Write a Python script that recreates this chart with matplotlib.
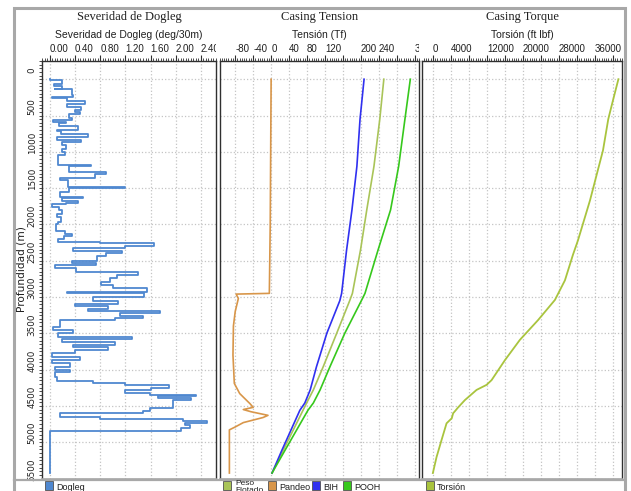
import matplotlib
matplotlib.use("Agg")
import matplotlib.pyplot as plt
from matplotlib.ticker import MultipleLocator, FixedLocator
from matplotlib.patches import Rectangle
from matplotlib.lines import Line2D
from matplotlib.transforms import ScaledTranslation, Bbox, TransformedBbox

# ---------------- data ----------------
# Dogleg severity (deg/30m): depth where a new value starts, and that value
dls_depth = [0, 15, 60, 100, 130, 135, 220, 250, 255, 300, 340, 380, 420, 450, 480, 530,
             560, 590, 610, 650, 700, 720, 760, 790, 840, 860, 900, 960, 1000, 1050, 1180,
             1200, 1280, 1300, 1365, 1390, 1487, 1500, 1560, 1620, 1640, 1680, 1700, 1720,
             1760, 1800, 1850, 1900, 1960, 2000, 2090, 2130, 2160, 2200, 2245, 2260, 2300,
             2330, 2365, 2400, 2440, 2500, 2530, 2560, 2600, 2650, 2700, 2740, 2795, 2830,
             2880, 2930, 2950, 3000, 3050, 3100, 3130, 3160, 3190, 3225, 3260, 3290, 3320,
             3410, 3460, 3500, 3550, 3580, 3620, 3660, 3690, 3730, 3775, 3830, 3870, 3910,
             3965, 4000, 4035, 4100, 4160, 4190, 4215, 4255, 4285, 4320, 4350, 4370, 4390,
             4420, 4530, 4570, 4600, 4650, 4680, 4710, 4740, 4765, 4810, 4840, 5425]
dls_value = [0.00, 0.19, 0.06, 0.19, 0.08, 0.35, 0.37, 0.03, 0.28, 0.56, 0.27, 0.50, 0.40,
             0.48, 0.30, 0.35, 0.05, 0.25, 0.15, 0.45, 0.12, 0.18, 0.60, 0.12, 0.50, 0.20,
             0.26, 0.20, 0.24, 0.13, 0.66, 0.30, 0.90, 0.72, 0.16, 0.29, 1.19, 0.30, 0.16,
             0.53, 0.20, 0.45, 0.25, 0.03, 0.15, 0.20, 0.12, 0.18, 0.13, 0.10, 0.24, 0.35,
             0.22, 0.13, 0.80, 1.65, 1.19, 0.37, 1.14, 0.90, 0.75, 0.35, 0.74, 0.08, 0.42,
             1.40, 1.06, 0.95, 0.82, 1.00, 1.54, 0.27, 1.50, 0.68, 1.08, 0.40, 0.92, 0.60,
             1.75, 1.11, 1.48, 1.03, 0.16, 0.05, 0.37, 0.13, 1.30, 0.19, 1.03, 0.37, 0.92,
             0.40, 0.03, 0.48, 0.03, 0.32, 0.08, 0.32, 0.08, 0.11, 0.68, 1.19, 1.90, 1.60,
             1.20, 1.59, 2.33, 1.72, 2.25, 1.96, 1.59, 1.48, 0.16, 0.79, 2.11, 2.50, 2.14,
             2.22, 2.09, 0.00, 0.00]

# Casing tension (Tf)
ten_depth = [0, 550, 1200, 1800, 2355, 2950, 3050, 3500, 3960, 4280, 4460, 4560, 5110, 5425]
rih = [207, 198, 191, 180, 168, 157, 153, 124, 101, 87, 75, 64, 24, 2]
peso = [251, 242, 229, 213, 199, 181, 175, 146, 116, 94, 79, 71, 27, 2]
pooh = [310, 298, 284, 266, 238, 209, 201, 164, 131, 109, 94, 82, 31, 2]

pandeo_depth = [0, 1000, 2000, 2950, 2960, 3020, 3200, 3400, 3800, 4190, 4330, 4470,
                4520, 4550, 4580, 4630, 4660, 4730, 4790, 4830, 5425]
pandeo = [0, -1, -2, -4, -78, -73, -80, -84, -85, -82, -70, -47, -40, -62, -45, -7, -18,
          -62, -80, -93, -93]

# Casing torque (ft lbf)
tor_depth = [0, 290, 550, 980, 1670, 2220, 2420, 2770, 3040, 3320, 3590, 3870, 4145,
             4210, 4280, 4420, 4520, 4590, 4600, 4670, 4740, 4970, 5205, 5425]
torque = [41200, 40000, 38950, 37780, 34890, 32220, 31100, 29330, 27110, 23330, 19330,
          16000, 13040, 11930, 9700, 7110, 5620, 4670, 4510, 4200, 3040, 1930, 820, 0]

dls_ticks = [0.0, 0.4, 0.8, 1.2, 1.6, 2.0, 2.4]
dls_labels = ["0.00", "0.40", "0.80", "1.20", "1.60", "2.00", "2.40"]
ten_ticks = list(range(-80, 321, 40))
ten_labels = ["-80", "-40", "0", "40", "80", "120", "", "200", "240", "", "320"]
tor_ticks = list(range(0, 40001, 4000))
tor_labels = ["0", "4000", "", "12000", "", "20000", "", "28000", "", "36000", ""]
depth_ticks = list(range(0, 5501, 500))

# ---------------- figure ----------------
W, H = 631, 491
fig = plt.figure(figsize=(W / 100, H / 100), dpi=100)
fig.patch.set_facecolor("white")


def fx(px):
    return px / W


def fy(py):
    return 1 - py / H


NARROW = ["Liberation Sans Narrow", "Liberation Sans", "DejaVu Sans"]
SERIF = ["Liberation Serif", "DejaVu Serif"]
TOP, BOT = 60.7, 478.5
panels = [(42.3, 216.0), (219.5, 419.3), (422.5, 622.0)]
axes = [fig.add_axes([fx(l), fy(BOT), (r - l) / W, (BOT - TOP) / H]) for l, r in panels]

# outer frame
fig.add_artist(Rectangle((fx(14), fy(530)), fx(625) - fx(14), fy(8) - fy(530),
                         transform=fig.transFigure, fill=False, ec="#a8a8a8", lw=2.2))
fig.add_artist(Line2D([fx(14), fx(625)], [fy(479.5), fy(479.5)], transform=fig.transFigure,
                      color="#a8a8a8", lw=1.6))


def style(ax, xlim, ticks, labels, minor, right_px):
    ax.set_xlim(*xlim)
    ax.set_ylim(5500, -255)
    ax.xaxis.tick_top()
    ax.xaxis.set_major_locator(FixedLocator(ticks))
    ax.xaxis.set_minor_locator(MultipleLocator(minor))
    ax.set_xticklabels(labels)
    ax.tick_params(axis="x", which="major", length=4, width=0.8, color="#303030",
                   pad=1, labelsize=7, labelcolor="#202020")
    ax.tick_params(axis="x", which="minor", length=2, width=0.6, color="#303030")
    clip = TransformedBbox(Bbox([[0, 0], [fx(right_px), 1]]), fig.transFigure)
    for t in ax.get_xticklabels():
        t.set_ha("left")
        t.set_family(NARROW)
        t.set_clip_box(clip)
        t.set_clip_on(True)
    ax.yaxis.set_major_locator(FixedLocator(depth_ticks))
    ax.grid(True, which="major", color="#c4c4c4", ls=":", lw=0.9)
    for s in ("left", "right", "top"):
        ax.spines[s].set_color("#303030")
        ax.spines[s].set_linewidth(1.0)
    ax.spines["bottom"].set_color("#a8a8a8")
    ax.spines["bottom"].set_linewidth(1.2)


ax1, ax2, ax3 = axes
style(ax1, (-0.12, 2.64), dls_ticks, dls_labels, 0.04, 216.0)
style(ax2, (-115, 330), ten_ticks, ten_labels, 5, 419.3)
style(ax3, (-2300, 42000), tor_ticks, tor_labels, 500, 624.0)

# depth axis on the first track
ax1.yaxis.set_minor_locator(MultipleLocator(50))
ax1.set_yticklabels([str(d) for d in depth_ticks])
ax1.tick_params(axis="y", which="major", length=2, width=0.6, color="#303030", pad=2,
                labelsize=6.3, labelrotation=90, labelcolor="#202020")
ax1.tick_params(axis="y", which="minor", length=2, width=0.6, color="#303030")
shift = ScaledTranslation(0, 0.09, fig.dpi_scale_trans)
for t in ax1.get_yticklabels():
    t.set_va("center")
    t.set_transform(t.get_transform() + shift)
for ax in (ax2, ax3):
    ax.tick_params(axis="y", which="both", left=False, labelleft=False)
fig.text(fx(22), fy(269), "Profundidad (m)", rotation=90, ha="center", va="center",
         fontsize=7.6, color="#202020")

# curves
ax1.plot(dls_value, dls_depth, color="#4f88d0", lw=1.3, drawstyle="steps-pre")
ax2.plot(pandeo, pandeo_depth, color="#d8964a", lw=1.2)
ax2.plot(peso, ten_depth, color="#a9c458", lw=1.2)
ax2.plot(rih, ten_depth, color="#3030f0", lw=1.2)
ax2.plot(pooh, ten_depth, color="#36c81c", lw=1.2)
ax3.plot(torque, tor_depth, color="#a9c43e", lw=1.3)

# titles
titles = [("Severidad de Dogleg", "Severidad de Dogleg (deg/30m)"),
          ("Casing Tension", "Tensión (Tf)"),
          ("Casing Torque", "Torsión (ft lbf)")]
for (l, r), (t1, t2) in zip(panels, titles):
    cx = fx((l + r) / 2)
    fig.text(cx, fy(17), t1, ha="center", va="center", fontsize=9, family=SERIF,
             color="#202020")
    fig.text(cx, fy(35), t2, ha="center", va="center", fontsize=7.5, family=NARROW,
             color="#202020")

# legend boxes under each track
legend_items = [(45, "#4f88d0", "Dogleg"), (223, "#a9c458", "Peso\nFlotado"),
                (268, "#d8964a", "Pandeo"), (312, "#3030f0", "BIH"),
                (343, "#36c81c", "POOH"), (426, "#a9c43e", "Torsión")]
for x0, col, lab in legend_items:
    fig.add_artist(Rectangle((fx(x0), fy(490)), 8 / W, 9 / H, transform=fig.transFigure,
                             fc=col, ec="#505050", lw=0.6))
    if "\n" in lab:
        fig.text(fx(x0 + 12), fy(487), lab, ha="left", va="center", fontsize=6,
                 family=NARROW, color="#202020", linespacing=1.0)
    else:
        fig.text(fx(x0 + 11), fy(487.5), lab, ha="left", va="center", fontsize=6.5,
                 family=NARROW, color="#202020")

fig.savefig("out.png", dpi=100)
